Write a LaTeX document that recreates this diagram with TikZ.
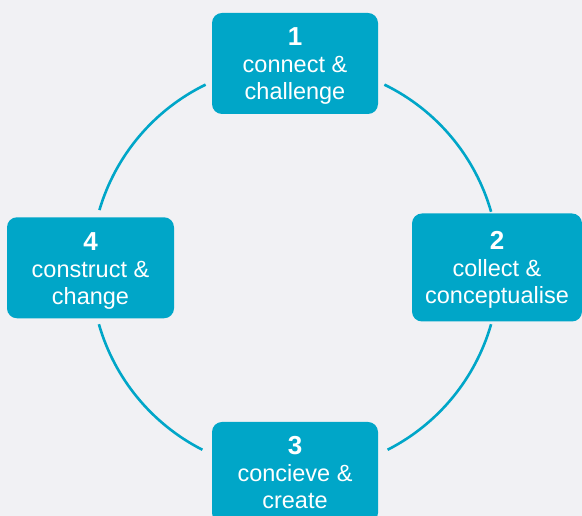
\documentclass[tikz,border=0pt]{standalone}
\usepackage{fontspec}
\setmainfont{Liberation Sans}
\definecolor{cyclebg}{HTML}{F1F1F4}
\definecolor{cycleteal}{HTML}{00A6C8}
\begin{document}
\begin{tikzpicture}
[x=1pt, y=1pt,
 stage/.style={fill=cycleteal, rounded corners=10pt, text=white, align=center, inner sep=0pt,
   minimum width=166pt, minimum height=101pt, font=\fontsize{23.5}{27}\selectfont},
 ring/.style={draw=cycleteal, line width=2.6pt}]
\fill [cyclebg] (0,0) rectangle (582,516);
\useasboundingbox (0,0) rectangle (582,516);
\coordinate (hub) at (295,248);
\draw [ring] ([shift={(16:204)}]hub) arc [start angle=16, end angle=64, radius=204];
\draw [ring] ([shift={(116:204)}]hub) arc [start angle=116, end angle=163.5, radius=204];
\draw [ring] ([shift={(196:204)}]hub) arc [start angle=196, end angle=243, radius=204];
\draw [ring] ([shift={(-63:204)}]hub) arc [start angle=-63, end angle=-16, radius=204];
\node [stage] (connect) at (295,452.5) {\rule{0pt}{24pt}{\bfseries\fontsize{26}{27}\selectfont 1}\\connect \&\\challenge\rule[-5pt]{0pt}{0pt}};
\node [stage, minimum width=170pt, minimum height=108pt] (collect) at (497,248.5) {\rule{0pt}{24pt}{\bfseries\fontsize{26}{27}\selectfont 2}\\collect \&\\conceptualise\rule[-5pt]{0pt}{0pt}};
\node [stage] (concieve) at (295,43.5) {\rule{0pt}{24pt}{\bfseries\fontsize{26}{27}\selectfont 3}\\concieve \&\\create\rule[-5pt]{0pt}{0pt}};
\node [stage, minimum width=167pt] (construct) at (90.5,248.2) {\rule{0pt}{24pt}{\bfseries\fontsize{26}{27}\selectfont 4}\\construct \&\\change\rule[-5pt]{0pt}{0pt}};
\end{tikzpicture}
\end{document}
